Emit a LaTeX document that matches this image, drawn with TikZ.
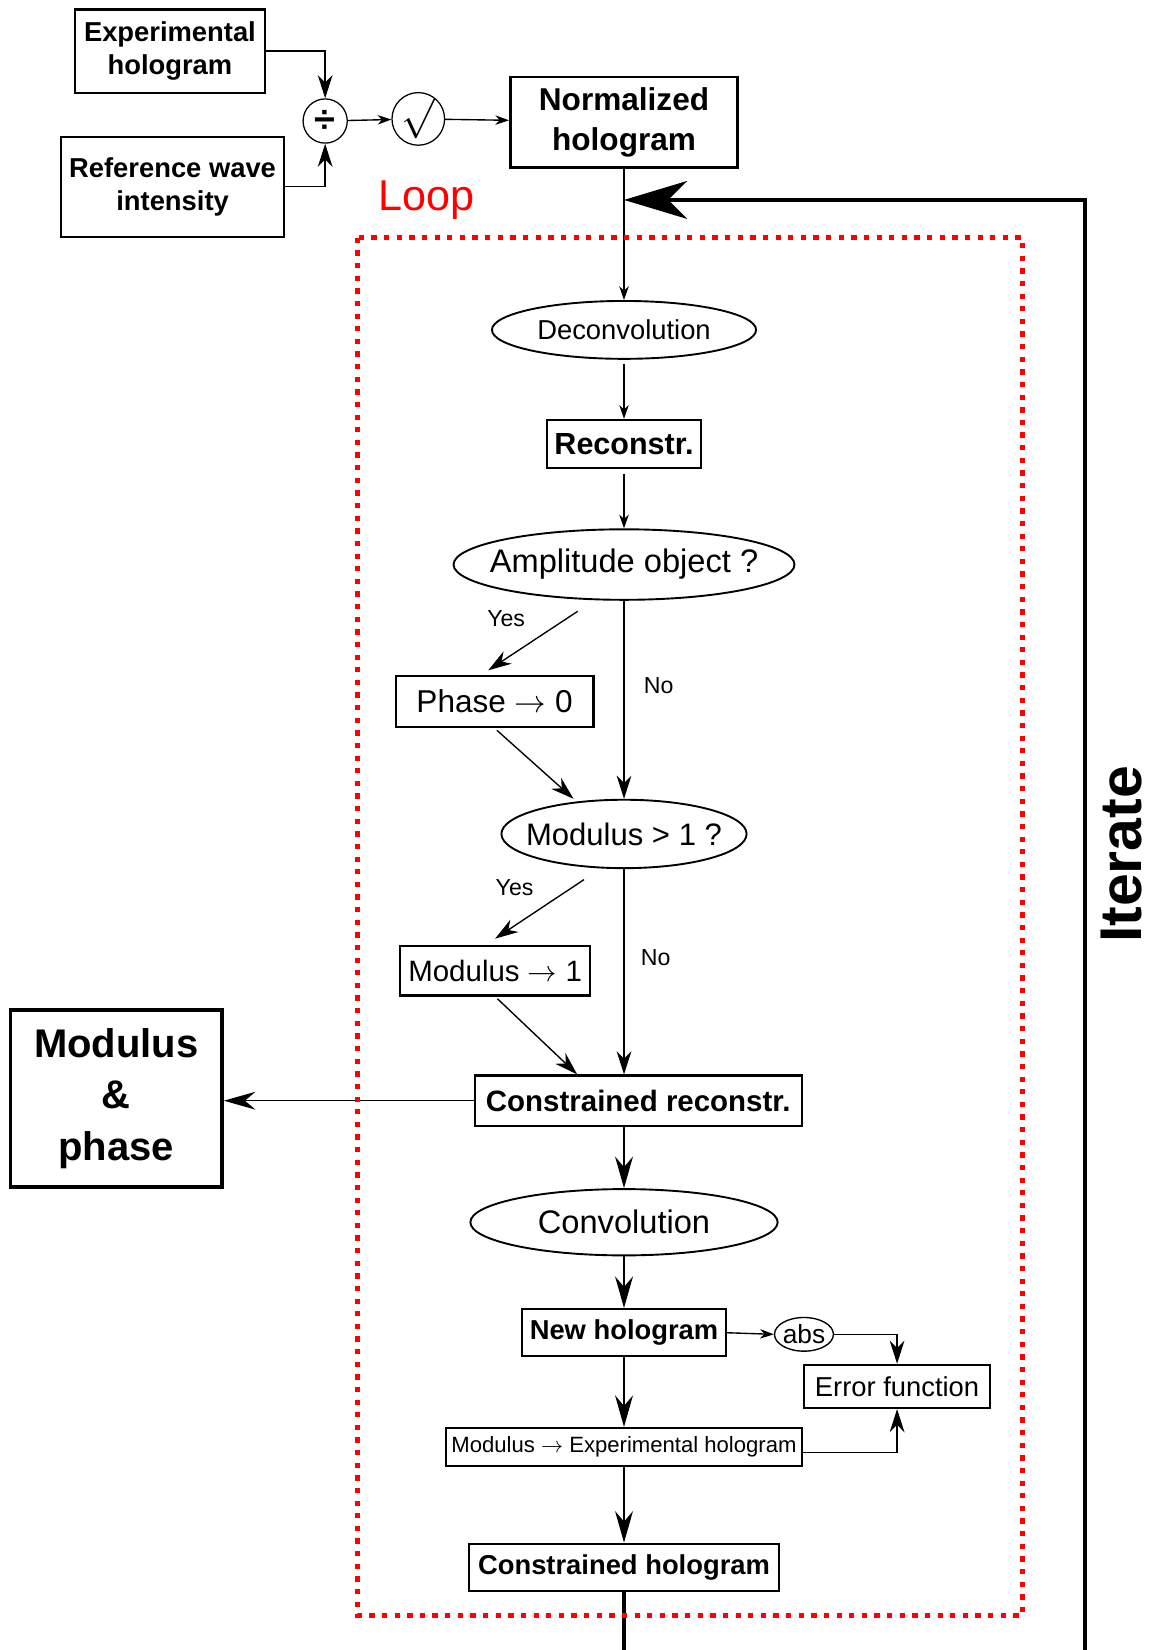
\RequirePackage{fix-cm}
\documentclass[tikz,border=0pt]{standalone}
\usepackage{fontspec}
\setmainfont{Liberation Sans}
\usetikzlibrary{arrows.meta,shapes.geometric}
\newcommand{\fsz}[2]{\fontsize{#1}{#2}\selectfont}

\begin{document}
\begin{tikzpicture}[x=1pt,y=-1pt,
    box/.style={draw,line width=2pt,inner sep=0pt,align=center},
    oval/.style={draw,ellipse,line width=1.8pt,inner sep=0pt},
    ln/.style={line width=1.3pt},
    lnb/.style={line width=1.8pt},
    tipa/.style={-{Stealth[length=13pt,width=9pt,inset=4pt]}},
    tipb/.style={-{Stealth[length=22pt,width=14pt,inset=7pt]}},
    tipc/.style={-{Stealth[length=30pt,width=17pt,inset=10pt]}},
    lbl/.style={font=\fsz{22}{26}}]
      \useasboundingbox (0,0) rectangle (1094,1568);

      % input side
      \node[box,minimum width=181pt,minimum height=79pt,font=\bfseries\fsz{26}{32}] (exph) at (161.5,48.5) {Experimental\\hologram};
      \node[box,minimum width=212pt,minimum height=95pt,font=\bfseries\fsz{26}{32}] (refw) at (164,177.5) {Reference wave\\intensity};
      \node[draw,circle,line width=1.2pt,minimum size=42pt,inner sep=0pt,font=\bfseries\fsz{36}{36}] (div) at (309,115) {÷};
      \node[draw,circle,line width=1.2pt,minimum size=50pt,inner sep=0pt,font=\fsz{38}{38}] (sqr) at (397.5,113) {$\surd$};
      \node[box,line width=2.5pt,minimum width=216pt,minimum height=86pt,font=\bfseries\fsz{30}{38}] (normh) at (593,116) {Normalized\\hologram};
      \node[text=red,font=\fsz{41}{41}] (loop) at (405,190) {Loop};

      % loop body
      \node[oval,minimum width=251pt,minimum height=55pt,font=\fsz{26}{30}] (deconv) at (593,313.5) {\makebox[0pt]{Deconvolution}};
      \node[box,minimum width=147pt,minimum height=46pt,font=\bfseries\fsz{29}{34}] (recon) at (593,422) {Reconstr.};
      \node[oval,minimum width=324pt,minimum height=67pt,font=\fsz{31}{36}] (amp) at (593,536.5) {\makebox[0pt]{Amplitude object ?}};
      \node[box,minimum width=188pt,minimum height=49pt,font=\fsz{30}{34}] (phase) at (470,666.5) {Phase $\rightarrow$ 0};
      \node[oval,minimum width=233pt,minimum height=65pt,font=\fsz{29.5}{34}] (mod1) at (593,792.5) {\makebox[0pt]{Modulus > 1 ?}};
      \node[box,minimum width=181pt,minimum height=47pt,font=\fsz{28}{32}] (modto1) at (470.5,922.5) {Modulus $\rightarrow$ 1};
      \node[box,minimum width=311pt,minimum height=48pt,font=\bfseries\fsz{28}{32}] (cr) at (606.5,1046) {Constrained reconstr.};
      \node[box,line width=3.5pt,minimum width=201pt,minimum height=168pt,font=\bfseries\fsz{38}{49}] (mp) at (110.5,1044) {Modulus\\\&\\phase};
      \node[oval,minimum width=292pt,minimum height=63pt,font=\fsz{31}{36}] (conv) at (593,1161.5) {\makebox[0pt]{Convolution}};
      \node[box,minimum width=194pt,minimum height=45pt,font=\bfseries\fsz{26}{30}] (newh) at (593,1266.5) {New hologram};
      \node[oval,line width=1.3pt,minimum width=56pt,minimum height=32pt,font=\fsz{25}{28}] (abs) at (764,1268) {\makebox[0pt]{abs}};
      \node[box,minimum width=177pt,minimum height=41pt,font=\fsz{26}{30}] (errf) at (852.5,1317.5) {Error function};
      \node[box,minimum width=339pt,minimum height=36pt,font=\fsz{21}{24}] (modexp) at (593,1375) {Modulus $\rightarrow$ Experimental hologram};
      \node[box,minimum width=295pt,minimum height=45pt,font=\bfseries\fsz{26}{30}] (ch) at (593,1489.5) {Constrained hologram};
      \node[rotate=90,font=\bfseries\fsz{56}{56}] (iter) at (1066,812) {Iterate};

      \node[lbl] (yes1) at (481,588) {Yes};
      \node[lbl] (no1) at (626,652) {No};
      \node[lbl] (yes2) at (489,844) {Yes};
      \node[lbl] (no2) at (623,910) {No};

      \coordinate (join) at (593,190);
      \coordinate (chout) at (593,1568);
      \coordinate (itbot) at (1031,1568);

      % connectors
      \draw[ln,tipb] (exph.east) -| (div.north);
      \draw[ln,tipb] (refw.east) -| (div.south);
      \draw[ln,tipa] (div) -- (sqr);
      \draw[ln,tipa] (sqr) -- (normh);
      \draw[ln,tipa] (normh.south) -- (deconv.north);
      \draw[ln,tipa,shorten <=4pt] (deconv.south) -- (recon.north);
      \draw[ln,tipa,shorten <=4pt] (recon.south) -- (amp.north);
      \draw[ln,tipb] ([xshift=-44pt,yshift=-10pt]amp.south) -- ([xshift=-6pt,yshift=4pt]phase.north);
      \draw[ln,tipb] (amp.south) -- (mod1.north);
      \draw[ln,tipb,shorten <=3pt] (phase.south) -- ([xshift=-48pt]mod1.north);
      \draw[ln,tipb] ([xshift=-38pt,yshift=-10pt]mod1.south) -- ([yshift=6pt]modto1.north);
      \draw[ln,tipb] (mod1.south) -- (mod1.south |- cr.north);
      \draw[ln,tipb,shorten <=3pt] (modto1.south) -- ([xshift=-58pt]cr.north);
      \draw[ln,tipc] (cr.west) -- (cr.west -| mp.east);
      \draw[lnb,tipc] (cr.south -| conv.north) -- (conv.north);
      \draw[lnb,tipc] (conv.south) -- (newh.north);
      \draw[ln,tipa] (newh.east) -- (abs.west);
      \draw[ln,tipb] (abs.east) -| (errf.north);
      \draw[lnb,tipc] (newh.south) -- (modexp.north);
      \draw[ln,tipb] ([yshift=-5pt]modexp.east) -| (errf.south);
      \draw[lnb,tipc] (modexp.south) -- (ch.north);
      \draw[line width=3pt] (ch.south) -- (chout);
      \draw[line width=3.5pt,-{Stealth[length=60pt,width=36pt,inset=18pt]}] (itbot) |- (join);

      % loop frame
      \draw[red,line width=5pt,dash pattern=on 5pt off 7pt] (340,226) rectangle (972,1535);
\end{tikzpicture}
\end{document}
